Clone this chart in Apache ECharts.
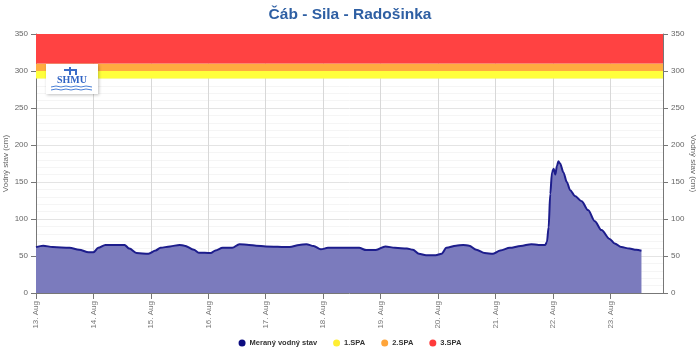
<!DOCTYPE html>
<html>
<head>
<meta charset="utf-8">
<script src="https://cdn.jsdelivr.net/npm/echarts@6/dist/echarts.min.js"></script>
<style>
  html, body { margin: 0; padding: 0; background: #fff; }
  #main { width: 700px; height: 353px; }
</style>
</head>
<body>
<div id="main"></div>
<script>
// hours counted from 13. Aug 00:00
var hours = [0, 3, 7, 14, 18, 22, 24, 26, 29, 37, 39, 42, 47, 50, 52, 56, 60, 62, 66, 68,
  73, 75, 78, 82, 85, 89, 92, 96, 106, 110, 113, 116, 119, 122, 135, 138, 142, 146, 150,
  155, 157.5, 160, 163, 167, 169.5, 171.5, 175.5, 178.5, 181, 184, 187.5, 191, 194, 198,
  202.5, 207, 210, 212.8, 213.5, 214.2, 214.9, 215.6, 216.3, 217, 217.7, 218.3, 219,
  220.4, 221.8, 223.2, 225.2, 228, 230.7, 233.5, 236.3, 239.7, 241.8, 244.6, 248, 250.8, 253];
var levels = [62, 64, 62, 61, 58.5, 55, 55, 61, 65, 65, 60, 54, 53, 57.5, 61, 63, 65, 64, 58.5, 54.5,
  54, 57.5, 61, 61, 66, 65, 64, 63, 62, 65, 66, 63.5, 59, 61, 61, 58, 58, 63, 61,
  60, 58.5, 53, 51, 51, 53, 61, 64, 65, 64, 58.5, 54, 53, 57.5, 61,
  63.5, 66, 65, 65, 69, 89, 134, 163, 168, 160, 172, 178, 175,
  163, 150, 139, 131, 124, 112, 97, 85, 73, 67, 62, 60, 58.5, 57];
var dayLabels = ['13. Aug', '14. Aug', '15. Aug', '16. Aug', '17. Aug', '18. Aug',
  '19. Aug', '20. Aug', '21. Aug', '22. Aug', '23. Aug'];
var spaNames = ['1.SPA', '2.SPA', '3.SPA'];
var spaFrom = [290, 300, 310];
var spaTo = [300, 310, 350];
var spaColors = ['#ffff3c', '#ffac40', '#ff4242'];
var legendColors = ['#ffee33', '#ffa53a', '#ff3b3b'];

var font = 'Liberation Sans';
var myChart = echarts.init(document.getElementById('main'));

var series = [{
  name: 'Meraný vodný stav',
  type: 'line',
  data: hours.map(function (h, i) { return [h, levels[i]]; }),
  smooth: 0.3,
  smoothMonotone: 'x',
  symbol: 'none',
  z: 3,
  itemStyle: { color: '#0c0c80' },
  lineStyle: { color: '#1d1d8c', width: 2 },
  areaStyle: { color: '#7b7bbd', opacity: 1 }
}];
spaNames.forEach(function (n, i) {
  series.push({
    name: n,
    type: 'line',
    data: [],
    z: 1,
    itemStyle: { color: legendColors[i] },
    markArea: {
      silent: true,
      itemStyle: { color: spaColors[i], opacity: 1 },
      data: [[{ yAxis: spaFrom[i] }, { yAxis: spaTo[i] }]]
    }
  });
});

var yAxisBase = {
  type: 'value',
  min: 0,
  max: 350,
  interval: 50,
  name: 'Vodný stav (cm)',
  nameLocation: 'middle',
  nameMoveOverlap: false,
  nameTextStyle: { color: '#666', fontSize: 8, fontFamily: font },
  axisLine: { show: true, lineStyle: { color: '#777' } },
  axisTick: { show: true, length: 5, lineStyle: { color: '#777' } },
  axisLabel: { color: '#666', fontSize: 8, fontFamily: font, margin: 8 },
  minorTick: { show: false, splitNumber: 5 },
  minorSplitLine: { show: true, lineStyle: { color: '#f5f5f5' } },
  splitLine: { show: true, lineStyle: { color: '#e4e4e4' } }
};

var option = {
  animation: false,
  title: {
    text: 'Čáb - Sila - Radošinka',
    left: 'center',
    top: 2,
    textStyle: { color: '#2e5fa3', fontSize: 15.5, fontWeight: 'bold', fontFamily: font }
  },
  legend: {
    bottom: 1,
    left: 'center',
    icon: 'circle',
    itemWidth: 7,
    itemHeight: 7,
    itemGap: 16,
    data: ['Meraný vodný stav'].concat(spaNames),
    textStyle: { color: '#333', fontSize: 7.5, fontWeight: 'bold', fontFamily: font, padding: [0, 0, 0, -1] }
  },
  grid: { left: 36, right: 37, top: 34, bottom: 60, containLabel: false, outerBoundsMode: 'none' },
  xAxis: {
    type: 'value',
    min: 0,
    max: 262,
    interval: 24,
    axisLine: { show: true, onZero: false, lineStyle: { color: '#777' } },
    axisTick: { show: true, length: 6, lineStyle: { color: '#777' } },
    axisLabel: {
      rotate: 90,
      color: '#777',
      fontSize: 8,
      fontFamily: font,
      margin: 8,
      showMaxLabel: false,
      formatter: function (v) {
        return v % 24 === 0 ? (dayLabels[v / 24] || '') : '';
      }
    },
    splitLine: { show: true, lineStyle: { color: '#d8d8d8' } }
  },
  yAxis: [
    Object.assign({}, yAxisBase, { position: 'left', nameGap: 26 }),
    Object.assign({}, yAxisBase, {
      position: 'right', nameGap: 26, nameRotate: -90,
      splitLine: { show: false }, minorSplitLine: { show: false }
    })
  ],
  graphic: [{
    type: 'group',
    left: 46,
    top: 64,
    z: 100,
    children: [
      { type: 'rect', z: 100, shape: { x: 0, y: 0, width: 52, height: 30 },
        style: { fill: '#fff', shadowBlur: 3, shadowColor: 'rgba(0,0,0,0.25)', shadowOffsetX: 1, shadowOffsetY: 1 } },
      { type: 'rect', z: 101, shape: { x: 23, y: 3, width: 2, height: 8 }, style: { fill: '#3a6cc8' } },
      { type: 'rect', z: 101, shape: { x: 18, y: 5, width: 12, height: 2 }, style: { fill: '#3a6cc8' } },
      { type: 'rect', z: 101, shape: { x: 29, y: 5, width: 2, height: 6 }, style: { fill: '#3a6cc8' } },
      { type: 'text', z: 101, x: 26, y: 11, style: { text: 'SHMU', align: 'center', verticalAlign: 'top',
        fill: '#2f63c4', font: 'bold 10px "Liberation Serif"' } },
      { type: 'polyline', z: 101, shape: { points: [[5, 23], [10, 22], [15, 23], [20, 22], [25, 23], [30, 22], [35, 23], [40, 22], [46, 23]] },
        style: { stroke: '#4a7fd6', lineWidth: 1, fill: null } },
      { type: 'polyline', z: 101, shape: { points: [[5, 26], [10, 25], [15, 26], [20, 25], [25, 26], [30, 25], [35, 26], [40, 25], [46, 26]] },
        style: { stroke: '#4a7fd6', lineWidth: 1, fill: null } }
    ]
  }],
  series: series
};
myChart.setOption(option);
</script>
</body>
</html>
